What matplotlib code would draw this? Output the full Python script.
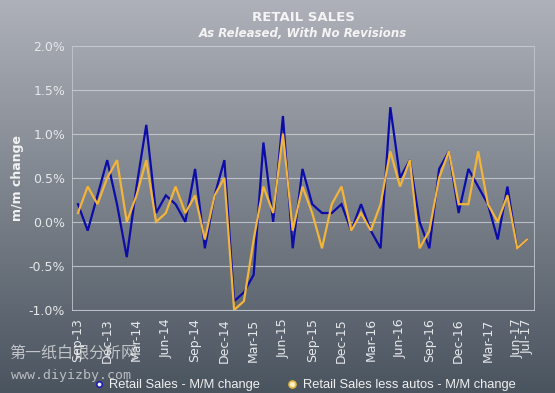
import numpy as np
import matplotlib
matplotlib.use("Agg")
import matplotlib.pyplot as plt
from matplotlib.lines import Line2D

# ---- data (Sep-13 .. Jul-17, monthly, % m/m) ----
months = ["Sep-13","Oct-13","Nov-13","Dec-13","Jan-14","Feb-14","Mar-14","Apr-14",
          "May-14","Jun-14","Jul-14","Aug-14","Sep-14","Oct-14","Nov-14","Dec-14",
          "Jan-15","Feb-15","Mar-15","Apr-15","May-15","Jun-15","Jul-15","Aug-15",
          "Sep-15","Oct-15","Nov-15","Dec-15","Jan-16","Feb-16","Mar-16","Apr-16",
          "May-16","Jun-16","Jul-16","Aug-16","Sep-16","Oct-16","Nov-16","Dec-16",
          "Jan-17","Feb-17","Mar-17","Apr-17","May-17","Jun-17","Jul-17"]
retail_sales = [0.2, -0.1, 0.3, 0.7, 0.2, -0.4, 0.4, 1.1, 0.1, 0.3, 0.2, 0.0,
                0.6, -0.3, 0.3, 0.7, -0.9, -0.8, -0.6, 0.9, 0.0, 1.2, -0.3, 0.6,
                0.2, 0.1, 0.1, 0.2, -0.1, 0.2, -0.1, -0.3, 1.3, 0.5, 0.7, 0.0,
                -0.3, 0.6, 0.8, 0.1, 0.6, 0.4, 0.2, -0.2, 0.4, -0.3, -0.2]
retail_less_autos = [0.1, 0.4, 0.2, 0.5, 0.7, 0.0, 0.3, 0.7, 0.0, 0.1, 0.4, 0.1,
                     0.3, -0.2, 0.3, 0.5, -1.0, -0.9, -0.2, 0.4, 0.1, 1.0, -0.1, 0.4,
                     0.1, -0.3, 0.2, 0.4, -0.1, 0.1, -0.1, 0.2, 0.8, 0.4, 0.7, -0.3,
                     -0.1, 0.5, 0.8, 0.2, 0.2, 0.8, 0.2, 0.0, 0.3, -0.3, -0.2]
tick_labels = ["Sep-13","Dec-13","Mar-14","Jun-14","Sep-14","Dec-14","Mar-15","Jun-15",
               "Sep-15","Dec-15","Mar-16","Jun-16","Sep-16","Dec-16","Mar-17","Jun-17","Jul-17"]
y_ticks = [-1.0, -0.5, 0.0, 0.5, 1.0, 1.5, 2.0]

W, H = 555, 393
fig = plt.figure(figsize=(W/100, H/100), dpi=100)

# background gradient
bg = fig.add_axes([0, 0, 1, 1], zorder=-10)
top = np.array([174, 177, 185]) / 255
bot = np.array([74, 84, 95]) / 255
t = np.linspace(0, 1, 256)[:, None, None]
grad = top * (1 - t) + bot * t
grad = np.repeat(grad, 4, axis=1)
bg.imshow(grad, aspect="auto", extent=[0, 1, 0, 1], origin="upper")
bg.set_axis_off()

ax = fig.add_axes([72/W, 1 - 310/H, (534-72)/W, (310-45.5)/H])
ax.set_facecolor("none")
x = np.arange(len(months))
ax.plot(x, retail_sales, color="#0c0ca8", lw=1.6, zorder=3, solid_joinstyle="miter")
ax.plot(x, retail_less_autos, color="#f2b43a", lw=1.6, zorder=4, solid_joinstyle="miter")

ax.set_xlim(-0.61, 46.72)
ax.set_ylim(-1.0, 2.0)
ax.set_yticks(y_ticks)
ax.set_yticklabels([f"{v:.1f}%" for v in y_ticks])
tick_pos = [months.index(m) for m in tick_labels]
ax.set_xticks(tick_pos)
ax.set_xticklabels(tick_labels, rotation=90)
ax.tick_params(axis="both", length=0, colors="#e6e8ea", labelsize=9)
ax.tick_params(axis="y", pad=5)
ax.tick_params(axis="x", pad=6)
ax.grid(axis="y", color="#cdd1d6", lw=0.8, alpha=0.8)
for s in ax.spines.values():
    s.set_color("#c3c7cc")
    s.set_linewidth(0.6)
ax.spines["bottom"].set_color("#cdd1d6")

ax.set_ylabel("m/m change", fontsize=9, fontweight="bold", color="#f2f2f2")
ax.yaxis.set_label_coords((23.5 - 72) / 462, 0.5)

fig.text(303/W, 1 - 17.5/H, "RETAIL SALES", ha="center", va="center",
         fontsize=9.5, fontweight="bold", color="#f4f4f4")
fig.text(303/W, 1 - 33.5/H, "As Released, With No Revisions", ha="center", va="center",
         fontsize=8.5, fontweight="bold", style="italic", color="#f4f4f4")

# watermark
fig.text(9/W, 1 - 354/H, "第一纸白银分析网", ha="left", va="center", fontsize=11.5,
         family=["Noto Sans CJK SC", "DejaVu Sans"], color="#e8e8e8", alpha=0.75)
fig.text(11/W, 1 - 376/H, "www.diyizby.com", ha="left", va="center", fontsize=9.5,
         family="DejaVu Sans Mono", color="#e0e0e0", alpha=0.75)

handles = [Line2D([], [], ls="none", marker="o", ms=4, mfc="#f0f0ff", mec="#2020b0", mew=1.2),
           Line2D([], [], ls="none", marker="o", ms=5, mfc="#f8f0c0", mec="#e8b840", mew=1.2)]
leg = fig.legend(handles, ["Retail Sales - M/M change", "Retail Sales less autos - M/M change"],
                 loc="center", bbox_to_anchor=(304/W, 1 - 385/H), ncol=2, frameon=False,
                 prop={"family": "Liberation Sans", "size": 9.3}, handletextpad=0.3,
                 columnspacing=2.0, handlelength=1.0)
for txt in leg.get_texts():
    txt.set_color("#f0f0f0")

fig.savefig("out.png", dpi=100)
